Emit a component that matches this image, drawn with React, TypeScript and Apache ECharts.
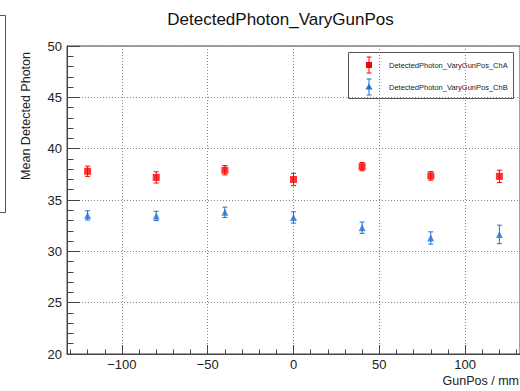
import React, { useEffect, useRef } from "react";
import * as echarts from "echarts";

const gunPos = [-120, -80, -40, 0, 40, 80, 120];
const chA = [37.8, 37.2, 37.9, 37.0, 38.25, 37.35, 37.3];
const chAErr = [0.5, 0.55, 0.45, 0.6, 0.4, 0.42, 0.6];
const chB = [33.5, 33.45, 33.8, 33.3, 32.3, 31.3, 31.65];
const chBErr = [0.45, 0.45, 0.5, 0.55, 0.55, 0.6, 0.9];
const xMajorTicks = [-100, -50, 0, 50, 100];
const xMinorTicks = [-130, -120, -110, -90, -80, -70, -60, -40, -30, -20, -10, 10, 20, 30, 40, 60, 70, 80, 90, 110, 120, 130];
const titleText = "DetectedPhoton_VaryGunPos";
const nameA = "DetectedPhoton_VaryGunPos_ChA";
const nameB = "DetectedPhoton_VaryGunPos_ChB";
const xTitle = "GunPos / mm";
const yTitle = "Mean Detected Photon";

const RED = "#ff0000";
const BLUE = "#1f73d6";
const AXIS = "#444";
const FONT = "Liberation Sans, Arial, sans-serif";

function errSeries(name: string, ys: number[], errs: number[], color: string) {
  return {
    type: "custom",
    name: name + "_err",
    xAxisIndex: 0,
    yAxisIndex: 0,
    data: gunPos.map((x, i) => [x, ys[i], errs[i]]),
    encode: { x: 0, y: 1 },
    renderItem: (_p: any, api: any) => {
      const x = api.value(0);
      const y = api.value(1);
      const e = api.value(2);
      const t = api.coord([x, y + e]);
      const b = api.coord([x, y - e]);
      const cap = 2.5;
      const st = { stroke: color, lineWidth: 1 };
      return {
        type: "group",
        children: [
          { type: "line", shape: { x1: t[0], y1: t[1], x2: b[0], y2: b[1] }, style: st },
          { type: "line", shape: { x1: t[0] - cap, y1: t[1], x2: t[0] + cap, y2: t[1] }, style: st },
          { type: "line", shape: { x1: b[0] - cap, y1: b[1], x2: b[0] + cap, y2: b[1] }, style: st },
        ],
      };
    },
    z: 3,
  };
}

export default function App() {
  const ref = useRef<HTMLDivElement>(null);
  useEffect(() => {
    if (!ref.current) return;
    const chart = echarts.init(ref.current, null, { renderer: "svg" });
    const dotted = { show: true, lineStyle: { color: "#888", type: [1, 2], width: 1 } };
    chart.setOption({
      animation: false,
      backgroundColor: "#fff",
      textStyle: { fontFamily: FONT },
      grid: {
        left: 67,
        top: 46,
        right: 0,
        bottom: 37,
        show: true,
        borderColor: AXIS,
        borderWidth: 1,
        backgroundColor: "transparent",
      },
      xAxis: [
        {
          type: "value",
          min: -132,
          max: 132,
          axisLine: { show: true, onZero: false, lineStyle: { color: AXIS } },
          axisTick: { show: true, inside: true, length: 9, customValues: xMajorTicks, lineStyle: { color: AXIS } },
          axisLabel: { customValues: xMajorTicks, margin: 4, fontSize: 13, color: "#222", fontFamily: FONT,
            formatter: (v: number) => (v < 0 ? "\u2212" + Math.abs(v) : String(v)) },
          splitLine: dotted,
        },
        {
          type: "value",
          min: -132,
          max: 132,
          position: "bottom",
          axisLine: { show: false, onZero: false },
          axisTick: { show: true, inside: true, length: 4.5, customValues: xMinorTicks, lineStyle: { color: AXIS } },
          axisLabel: { show: false },
          splitLine: { show: false },
        },
      ],
      yAxis: {
        type: "value",
        min: 20,
        max: 50,
        interval: 5,
        axisLine: { show: true, onZero: false, lineStyle: { color: AXIS } },
        axisTick: { show: true, inside: true, length: 13, lineStyle: { color: AXIS } },
        minorTick: { show: true, splitNumber: 5, length: 6.5, lineStyle: { color: AXIS } },
        axisLabel: { margin: 5, fontSize: 13, color: "#222", fontFamily: FONT },
        splitLine: dotted,
      },
      graphic: [
        {
          type: "text",
          x: 280.5,
          y: 19,
          style: { text: titleText, font: `17px ${FONT}`, fill: "#111", textAlign: "center", textVerticalAlign: "middle" },
        },
        {
          type: "text",
          x: 519,
          y: 381,
          style: { text: xTitle, font: `12.5px ${FONT}`, fill: "#222", textAlign: "right", textVerticalAlign: "middle" },
        },
        {
          type: "text",
          x: 26,
          y: 52,
          rotation: Math.PI / 2,
          style: { text: yTitle, font: `12.5px ${FONT}`, fill: "#222", textAlign: "right", textVerticalAlign: "middle" },
        },
        {
          type: "rect",
          shape: { x: -10, y: 15.5, width: 15.5, height: 197 },
          style: { fill: "none", stroke: "#555", lineWidth: 1 },
        },
        {
          type: "group",
          z: 100,
          children: [
            {
              type: "rect",
              shape: { x: 348.5, y: 52.5, width: 165, height: 46 },
              style: { fill: "#fff", stroke: "#555", lineWidth: 1 },
            },
            { type: "line", shape: { x1: 369, y1: 57, x2: 369, y2: 73 }, style: { stroke: RED, lineWidth: 1 } },
            { type: "line", shape: { x1: 366.5, y1: 57, x2: 371.5, y2: 57 }, style: { stroke: RED, lineWidth: 1 } },
            { type: "line", shape: { x1: 366.5, y1: 73, x2: 371.5, y2: 73 }, style: { stroke: RED, lineWidth: 1 } },
            { type: "rect", shape: { x: 366, y: 62, width: 6, height: 6 }, style: { fill: RED } },
            {
              type: "text",
              x: 389,
              y: 65,
              style: { text: nameA, font: `7.5px ${FONT}`, fill: "#222", textVerticalAlign: "middle" },
            },
            { type: "line", shape: { x1: 369, y1: 79, x2: 369, y2: 95 }, style: { stroke: BLUE, lineWidth: 1 } },
            { type: "line", shape: { x1: 366.5, y1: 79, x2: 371.5, y2: 79 }, style: { stroke: BLUE, lineWidth: 1 } },
            { type: "line", shape: { x1: 366.5, y1: 95, x2: 371.5, y2: 95 }, style: { stroke: BLUE, lineWidth: 1 } },
            { type: "polygon", shape: { points: [[369, 83.5], [372.5, 89.5], [365.5, 89.5]] }, style: { fill: BLUE } },
            {
              type: "text",
              x: 389,
              y: 87,
              style: { text: nameB, font: `7.5px ${FONT}`, fill: "#222", textVerticalAlign: "middle" },
            },
          ],
        },
      ],
      series: [
        errSeries(nameA, chA, chAErr, RED),
        errSeries(nameB, chB, chBErr, BLUE),
        {
          type: "scatter",
          name: nameA,
          xAxisIndex: 0,
          data: gunPos.map((x, i) => [x, chA[i]]),
          symbol: "rect",
          symbolSize: 7,
          itemStyle: { color: RED },
          z: 4,
        },
        {
          type: "scatter",
          name: nameB,
          xAxisIndex: 0,
          data: gunPos.map((x, i) => [x, chB[i]]),
          symbol: "triangle",
          symbolSize: 7,
          itemStyle: { color: BLUE },
          z: 4,
        },
      ],
    });
    return () => chart.dispose();
  }, []);
  return (
    <div
      ref={ref}
      style={{ position: "fixed", left: 0, top: 0, width: 520, height: 391, background: "#fff" }}
    />
  );
}
